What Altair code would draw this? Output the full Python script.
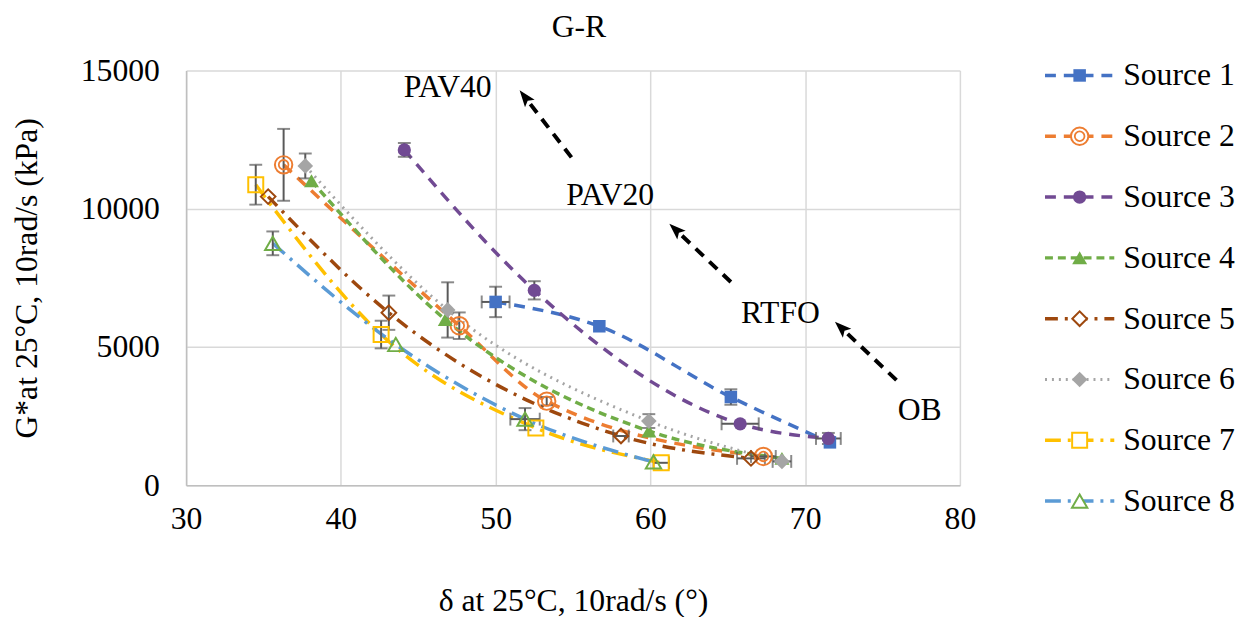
import math
import altair as alt
import pandas as pd

# ---------------- data ----------------
series_names = ["Source 1", "Source 2", "Source 3", "Source 4",
                "Source 5", "Source 6", "Source 7", "Source 8"]

s1_x = [50.0, 56.7, 65.2, 71.6]
s1_y = [6630, 5750, 3190, 1550]
s1_ex = [0.9, 0, 0, 0]
s1_ey = [550, 0, 280, 0]

s2_x = [36.3, 47.65, 53.3, 67.3]
s2_y = [11590, 5770, 3040, 1040]
s2_ex = [0, 0, 0, 0.8]
s2_ey = [1300, 480, 150, 0]

s3_x = [44.1, 52.5, 65.8, 71.5]
s3_y = [12130, 7050, 2220, 1690]
s3_ex = [0, 0, 1.2, 0.8]
s3_ey = [250, 330, 0, 200]

s4_x = [38.1, 46.75, 59.9, 68.5]
s4_y = [11010, 5990, 1960, 970]
s4_ex = [0, 0, 0, 0]
s4_ey = [0, 0, 0, 0]

s5_x = [35.3, 43.1, 58.1, 66.5]
s5_y = [10440, 6240, 1780, 970]
s5_ex = [0, 0, 0.5, 0.9]
s5_ey = [0, 620, 0, 0]

s6_x = [37.7, 46.9, 59.9, 68.5]
s6_y = [11550, 6340, 2320, 860]
s6_ex = [0, 0, 0, 0.6]
s6_ey = [450, 1000, 250, 0]

s7_x = [34.5, 42.6, 52.6, 60.7]
s7_y = [10870, 5450, 2070, 810]
s7_ex = [0, 0, 0, 0.5]
s7_ey = [720, 500, 0, 0]

s8_x = [35.6, 43.55, 51.9, 60.2]
s8_y = [8750, 5090, 2390, 840]
s8_ex = [0, 0, 0.95, 0]
s8_ey = [430, 0, 400, 0]

ann_text = ["PAV40", "PAV20", "RTFO", "OB"]
ann_x = [46.9, 57.4, 68.4, 77.4]
ann_y = [14410, 10500, 6240, 2720]

arrow_x0 = [54.9, 65.2, 75.9]
arrow_y0 = [11860, 7350, 3800]
arrow_x1 = [51.95, 61.7, 72.4]
arrow_y1 = [14000, 9210, 5660]

x_ticks = [30, 40, 50, 60, 70, 80]
y_ticks = [0, 5000, 10000, 15000]

# ---------------- styles ----------------
FONT = "Liberation Serif"
FS = 32
W, H = 782, 419
X_DOM = [30, 80]
Y_DOM = [0, 15000]

all_x = [s1_x, s2_x, s3_x, s4_x, s5_x, s6_x, s7_x, s8_x]
all_y = [s1_y, s2_y, s3_y, s4_y, s5_y, s6_y, s7_y, s8_y]
all_ex = [s1_ex, s2_ex, s3_ex, s4_ex, s5_ex, s6_ex, s7_ex, s8_ex]
all_ey = [s1_ey, s2_ey, s3_ey, s4_ey, s5_ey, s6_ey, s7_ey, s8_ey]

line_color = ["#4472C4", "#ED7D31", "#714A93", "#70AD47",
              "#9E480E", "#A5A5A5", "#FFC000", "#5B9BD5"]
line_dash = [[11, 8], [11, 8], [11, 8], [8, 5],
             [13, 7, 3, 7], [2, 5], [16, 7, 3, 7], [16, 7, 3, 7]]
line_width = [3.5, 3.5, 3.5, 3.5, 3.5, 3, 3.5, 3.5]
# marker: (shape, filled, color, size)
markers = [
    ("square", True, "#4472C4", 160),
    ("circle", False, "#ED7D31", 310),
    ("circle", True, "#714A93", 180),
    ("triangle-up", True, "#70AD47", 230),
    ("diamond", False, "#9E480E", 220),
    ("diamond", True, "#A5A5A5", 250),
    ("square", False, "#FFC000", 230),
    ("triangle-up", False, "#70AD47", 240),
]
ERR = "#595959"

xs = alt.Scale(domain=X_DOM, nice=False, zero=False)
ys = alt.Scale(domain=Y_DOM, nice=False)

x_axis = alt.Axis(values=x_ticks, title="δ at 25°C, 10rad/s (°)", grid=True,
                  gridColor="#D9D9D9", gridWidth=1.5, domainColor="#BFBFBF",
                  domainWidth=1.5, ticks=False, labelFont=FONT, labelFontSize=FS,
                  labelColor="black", labelPadding=19, labelFlush=False,
                  titleFont=FONT, titleFontSize=FS, titleFontWeight="normal",
                  titleColor="black", titlePadding=52)
y_axis = alt.Axis(values=y_ticks, title="G*at 25°C, 10rad/s (kPa)", grid=True,
                  format="d", gridColor="#D9D9D9", gridWidth=1.5,
                  domainColor="#BFBFBF", domainWidth=1.5, ticks=False,
                  labelFont=FONT, labelFontSize=FS, labelColor="black",
                  labelPadding=27, labelFlush=False, titleFont=FONT,
                  titleFontSize=FS, titleFontWeight="normal", titleColor="black",
                  titlePadding=37)

rows = []
for i, name in enumerate(series_names):
    for j in range(len(all_x[i])):
        rows.append({"series": name, "order": j, "x": all_x[i][j], "y": all_y[i][j],
                     "ex": all_ex[i][j], "ey": all_ey[i][j]})
df = pd.DataFrame(rows)
df["ylo"] = df["y"] - df["ey"]
df["yhi"] = df["y"] + df["ey"]
df["xlo"] = df["x"] - df["ex"]
df["xhi"] = df["x"] + df["ex"]

base = alt.Chart(df)

layers = []
# axes carrier
layers.append(base.mark_point(opacity=0).encode(
    x=alt.X("x:Q", scale=xs, axis=x_axis),
    y=alt.Y("y:Q", scale=ys, axis=y_axis)))

for i, name in enumerate(series_names):
    sub = base.transform_filter(alt.datum.series == name)
    layers.append(sub.mark_line(color=line_color[i], strokeDash=line_dash[i],
                                strokeWidth=line_width[i], interpolate="monotone").encode(
        x="x:Q", y="y:Q", order="order:Q"))

# error bars
yerr = base.transform_filter(alt.datum.ey > 0)
xerr = base.transform_filter(alt.datum.ex > 0)
layers.append(yerr.mark_rule(color=ERR, strokeWidth=2).encode(
    x="x:Q", y="ylo:Q", y2="yhi:Q"))
layers.append(yerr.mark_tick(color=ERR, orient="horizontal", size=13, thickness=2).encode(
    x="x:Q", y="ylo:Q"))
layers.append(yerr.mark_tick(color=ERR, orient="horizontal", size=13, thickness=2).encode(
    x="x:Q", y="yhi:Q"))
layers.append(xerr.mark_rule(color=ERR, strokeWidth=2).encode(
    x="xlo:Q", x2="xhi:Q", y="y:Q"))
layers.append(xerr.mark_tick(color=ERR, orient="vertical", size=13, thickness=2).encode(
    x="xlo:Q", y="y:Q"))
layers.append(xerr.mark_tick(color=ERR, orient="vertical", size=13, thickness=2).encode(
    x="xhi:Q", y="y:Q"))

for i, name in enumerate(series_names):
    sub = base.transform_filter(alt.datum.series == name)
    shape, filled, col, size = markers[i]
    if filled:
        mk = sub.mark_point(shape=shape, filled=True, color=col,
                            strokeWidth=1, size=size, opacity=1)
    else:
        mk = sub.mark_point(shape=shape, filled=False, color=col,
                            strokeWidth=2, size=size, opacity=1)
    layers.append(mk.encode(x="x:Q", y="y:Q"))
    if i == 1:  # double circle
        layers.append(sub.mark_point(shape="circle", filled=False, color=col,
                                     strokeWidth=1.8, size=95, opacity=1).encode(
            x="x:Q", y="y:Q"))

# annotations
ann_df = pd.DataFrame({"t": ann_text, "x": ann_x, "y": ann_y})
layers.append(alt.Chart(ann_df).mark_text(font=FONT, fontSize=FS, color="black").encode(
    x="x:Q", y="y:Q", text="t:N"))

arr_rows = []
head_rows = []
for k in range(len(arrow_x0)):
    arr_rows.append({"a": k, "o": 0, "x": arrow_x0[k], "y": arrow_y0[k]})
    arr_rows.append({"a": k, "o": 1, "x": arrow_x1[k], "y": arrow_y1[k]})
    dxp = (arrow_x1[k] - arrow_x0[k]) * W / (X_DOM[1] - X_DOM[0])
    dyp = (arrow_y1[k] - arrow_y0[k]) * H / (Y_DOM[1] - Y_DOM[0])
    ang = math.degrees(math.atan2(dxp, dyp)) % 360
    head_rows.append({"x": arrow_x1[k], "y": arrow_y1[k], "ang": ang})
arr_df = pd.DataFrame(arr_rows)
head_df = pd.DataFrame(head_rows)
layers.append(alt.Chart(arr_df).mark_line(color="black", strokeWidth=4,
                                          strokeDash=[11, 8]).encode(
    x="x:Q", y="y:Q", detail="a:N", order="o:Q"))
layers.append(alt.Chart(head_df).mark_point(
    shape="M0,-1L0.6,0.65L0,0.3L-0.6,0.65Z", filled=True, color="black",
    size=420, opacity=1).encode(
    x="x:Q", y="y:Q", angle=alt.Angle("ang:Q", scale=None)))

main = alt.layer(*layers).properties(
    width=W, height=H,
    title=alt.Title("G-R", font=FONT, fontSize=FS, fontWeight="normal",
                    color="black", offset=11, dx=6))

# ---------------- legend panel ----------------
LW, LH = 192, 440
LINE_X0, LINE_X1, MARK_X, TEXT_X = 0, 70, 35, 79
leg_rows = []
for i, name in enumerate(series_names):
    leg_rows.append({"series": name, "o": 0, "lx": LINE_X0})
    leg_rows.append({"series": name, "o": 1, "lx": LINE_X1})
leg_df = pd.DataFrame(leg_rows)
lab_df = pd.DataFrame({"series": series_names})
lab_df["mx"] = MARK_X
lab_df["tx"] = TEXT_X
lx_s = alt.Scale(domain=[0, LW], nice=False, zero=False)
ly_s = alt.Scale(domain=series_names, type="point", padding=0.08)
leg_layers = [alt.Chart(lab_df).mark_point(opacity=0).encode(
    x=alt.X("mx:Q", scale=lx_s, axis=None),
    y=alt.Y("series:N", scale=ly_s, axis=None))]
for i, name in enumerate(series_names):
    sub = alt.Chart(leg_df).transform_filter(alt.datum.series == name)
    leg_layers.append(sub.mark_line(color=line_color[i], strokeDash=line_dash[i],
                                    strokeWidth=line_width[i]).encode(
        x="lx:Q", y="series:N", order="o:Q"))
    msub = alt.Chart(lab_df).transform_filter(alt.datum.series == name)
    shape, filled, col, size = markers[i]
    if filled:
        mk = msub.mark_point(shape=shape, filled=True, color=col,
                             strokeWidth=1, size=size, opacity=1)
    else:
        mk = msub.mark_point(shape=shape, filled=True, fill="white", stroke=col,
                             strokeWidth=2, size=size, opacity=1)
    leg_layers.append(mk.encode(x="mx:Q", y="series:N"))
    if i == 1:
        leg_layers.append(msub.mark_point(shape="circle", filled=False, color=col,
                                          strokeWidth=1.8, size=95, opacity=1).encode(
            x="mx:Q", y="series:N"))
leg_layers.append(alt.Chart(lab_df).mark_text(font=FONT, fontSize=FS, color="black",
                                              align="left", baseline="middle").encode(
    x="tx:Q", y="series:N", text="series:N"))

legend = alt.layer(*leg_layers).properties(width=LW, height=LH)

chart = alt.hconcat(main, legend, spacing=63).properties(
    padding={"left": 3, "top": 0, "right": 0, "bottom": 0}
).configure_view(stroke=None)

chart.save("out.html", embed_options={"renderer": "svg", "actions": False})
